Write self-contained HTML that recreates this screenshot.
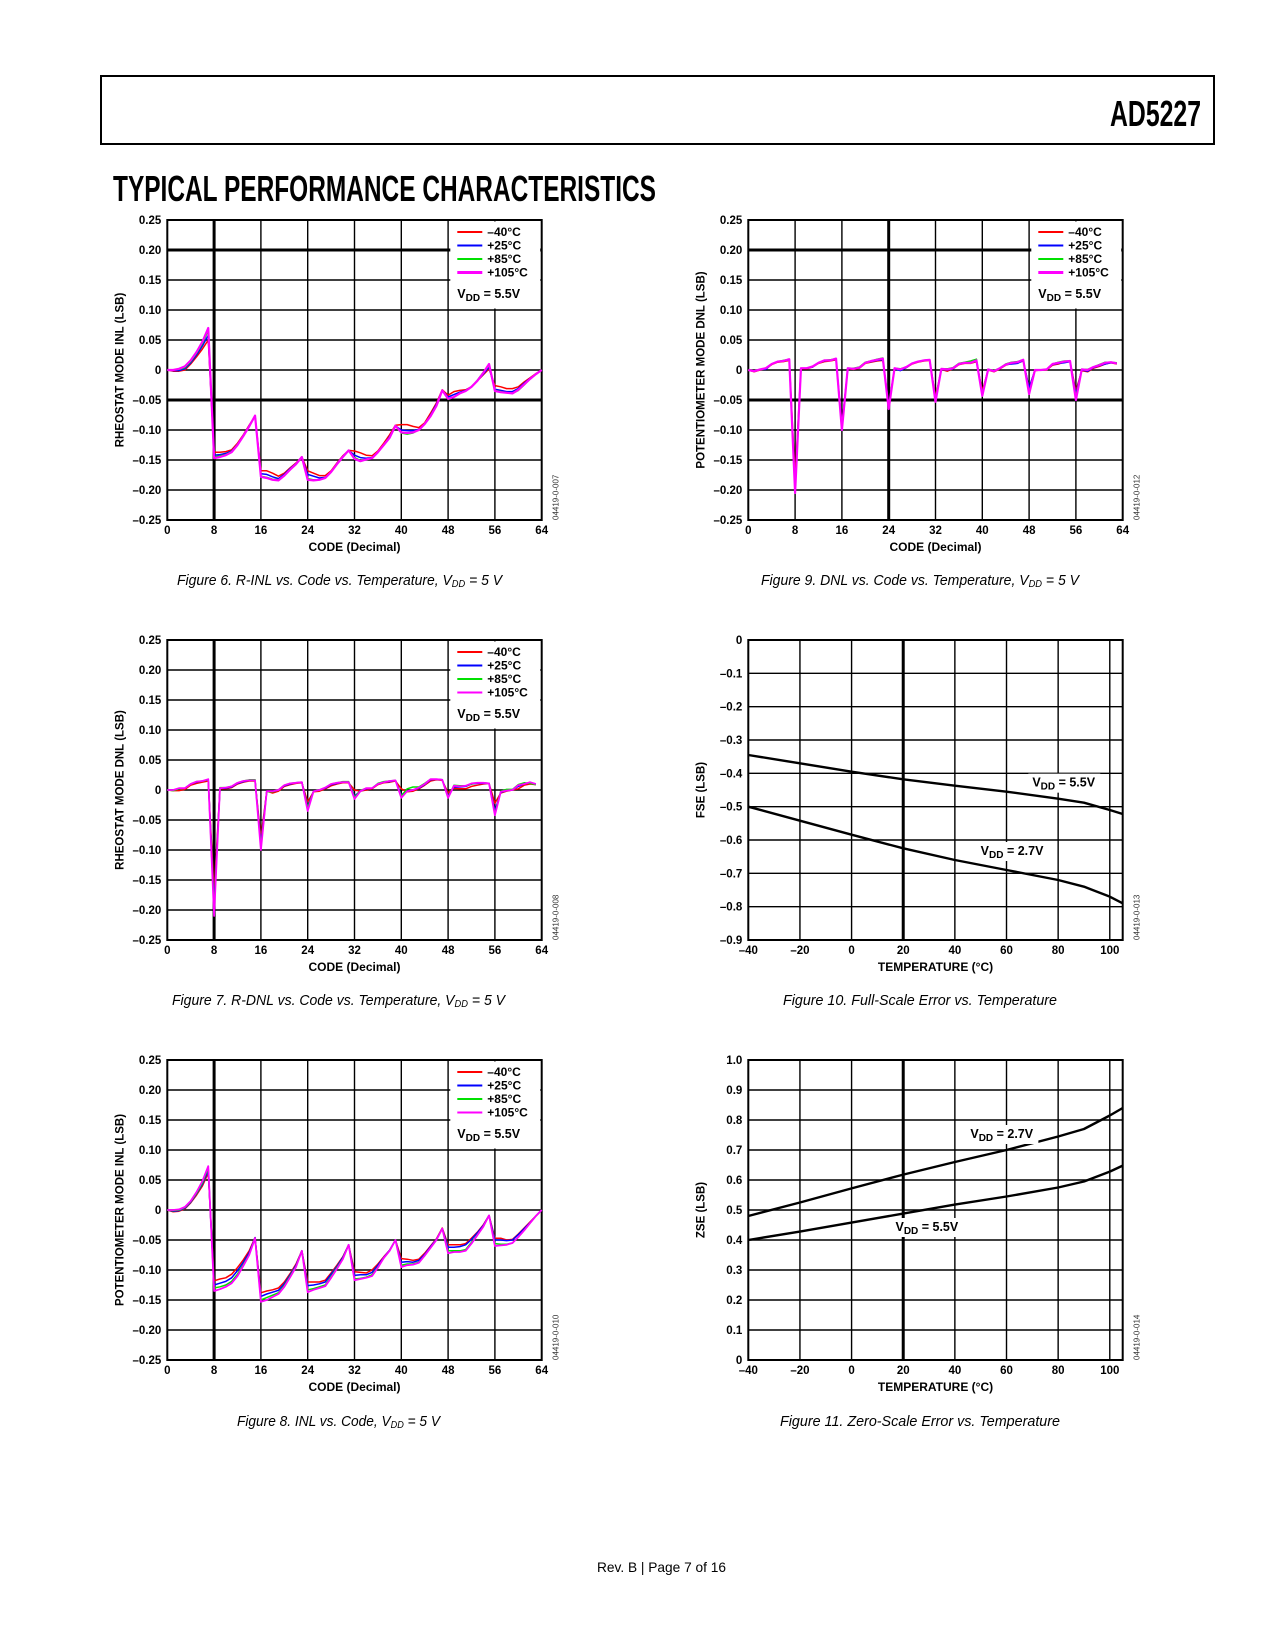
<!DOCTYPE html>
<html><head><meta charset="utf-8"><style>
html,body{margin:0;padding:0;background:#fff;}
svg{display:block;font-family:"Liberation Sans",Arial,sans-serif;}
</style></head><body>
<svg id="page" width="1275" height="1650" viewBox="0 0 1275 1650" xmlns="http://www.w3.org/2000/svg">
<rect x="101" y="76" width="1113" height="68" fill="none" stroke="#000" stroke-width="2"/>
<text x="1201" y="126" text-anchor="end" font-family="'Liberation Sans Narrow','Liberation Sans',sans-serif" font-weight="bold" font-size="36" textLength="91" lengthAdjust="spacingAndGlyphs">AD5227</text>
<text x="113" y="201" font-family="'Liberation Sans Narrow','Liberation Sans',sans-serif" font-weight="bold" font-size="36" textLength="543" lengthAdjust="spacingAndGlyphs">TYPICAL PERFORMANCE CHARACTERISTICS</text>
<text x="597" y="1572" font-size="14" textLength="129" lengthAdjust="spacingAndGlyphs">Rev. B | Page 7 of 16</text>
</svg>
<script>
// ---- Figure 6: R-INL
const codes65 = Array.from({length:65},(_,i)=>i);
const codes64 = Array.from({length:64},(_,i)=>i);
const codeTicks = [0,8,16,24,32,40,48,56,64];
const lsbTicks = [0.25,0.20,0.15,0.10,0.05,0,-0.05,-0.10,-0.15,-0.20,-0.25];
const lsbTickLabels = ["0.25","0.20","0.15","0.10","0.05","0","–0.05","–0.10","–0.15","–0.20","–0.25"];
const tempLegend = ["–40°C","+25°C","+85°C","+105°C"];

const r6 = [0,-0.002,-0.002,0,0.01,0.022,0.035,0.05,-0.137,-0.137,-0.136,-0.133,-0.122,-0.108,-0.092,-0.077,-0.168,-0.168,-0.172,-0.177,-0.172,-0.163,-0.155,-0.145,-0.168,-0.172,-0.176,-0.176,-0.168,-0.155,-0.143,-0.134,-0.135,-0.138,-0.142,-0.143,-0.135,-0.122,-0.108,-0.092,-0.091,-0.091,-0.094,-0.096,-0.088,-0.072,-0.055,-0.033,-0.042,-0.036,-0.034,-0.033,-0.028,-0.018,-0.008,0.002,-0.026,-0.028,-0.031,-0.031,-0.028,-0.02,-0.013,-0.006,0];
const b6 = [0,-0.001,-0.001,0.002,0.012,0.025,0.04,0.058,-0.142,-0.141,-0.139,-0.135,-0.124,-0.109,-0.093,-0.077,-0.173,-0.174,-0.178,-0.181,-0.174,-0.164,-0.156,-0.145,-0.174,-0.177,-0.18,-0.179,-0.17,-0.156,-0.144,-0.134,-0.142,-0.146,-0.147,-0.146,-0.137,-0.125,-0.111,-0.093,-0.1,-0.101,-0.101,-0.099,-0.09,-0.075,-0.057,-0.034,-0.045,-0.041,-0.037,-0.034,-0.028,-0.018,-0.007,0.005,-0.032,-0.034,-0.036,-0.036,-0.031,-0.022,-0.014,-0.007,0];
const g6 = [0,0,0.001,0.004,0.014,0.028,0.044,0.066,-0.145,-0.143,-0.141,-0.136,-0.124,-0.11,-0.094,-0.076,-0.177,-0.179,-0.182,-0.183,-0.176,-0.165,-0.157,-0.145,-0.181,-0.183,-0.183,-0.18,-0.17,-0.157,-0.145,-0.134,-0.146,-0.151,-0.149,-0.147,-0.137,-0.125,-0.112,-0.093,-0.105,-0.107,-0.105,-0.1,-0.09,-0.076,-0.06,-0.034,-0.049,-0.045,-0.039,-0.035,-0.028,-0.017,-0.004,0.007,-0.034,-0.036,-0.038,-0.039,-0.034,-0.025,-0.015,-0.007,0];
const m6 = [0,0,0.002,0.006,0.016,0.03,0.047,0.07,-0.147,-0.145,-0.142,-0.137,-0.125,-0.11,-0.094,-0.076,-0.178,-0.18,-0.183,-0.184,-0.176,-0.166,-0.157,-0.145,-0.183,-0.184,-0.183,-0.18,-0.17,-0.157,-0.145,-0.134,-0.148,-0.152,-0.149,-0.147,-0.137,-0.125,-0.113,-0.093,-0.104,-0.105,-0.104,-0.1,-0.09,-0.077,-0.06,-0.034,-0.048,-0.045,-0.039,-0.035,-0.028,-0.018,-0.005,0.01,-0.035,-0.037,-0.038,-0.039,-0.033,-0.024,-0.015,-0.007,0];

// ---- Figure 7: R-DNL
const r7 = [0,-0.001,-0.001,0.001,0.008,0.011,0.013,0.015,-0.17,0.002,0.002,0.004,0.01,0.013,0.015,0.015,-0.08,-0.002,-0.005,-0.002,0.006,0.009,0.011,0.012,-0.02,-0.003,-0.002,0.002,0.007,0.01,0.012,0.012,0,-0.002,0,0.002,0.009,0.012,0.013,0.015,0.002,-0.003,-0.002,0.002,0.008,0.015,0.017,0.016,-0.005,0.003,0.002,0.002,0.006,0.008,0.01,0.011,-0.022,-0.005,-0.002,0,0.002,0.008,0.01,0.009];
const b7 = [0,0,0.002,0.003,0.01,0.013,0.015,0.017,-0.19,0.003,0.003,0.005,0.011,0.014,0.016,0.016,-0.09,-0.002,-0.003,0,0.007,0.01,0.012,0.013,-0.028,-0.002,0,0.003,0.009,0.011,0.013,0.013,-0.01,-0.002,0.002,0.003,0.01,0.013,0.014,0.016,-0.008,-0.002,0,0.003,0.009,0.017,0.018,0.017,-0.01,0.005,0.005,0.006,0.01,0.011,0.011,0.011,-0.035,-0.004,-0.001,0,0.006,0.01,0.012,0.01];
const g7 = [0,-0.001,0.002,0.003,0.01,0.014,0.015,0.017,-0.2,0.004,0.004,0.006,0.012,0.015,0.017,0.017,-0.095,-0.003,-0.003,0,0.008,0.011,0.012,0.013,-0.03,-0.002,0,0.004,0.01,0.012,0.014,0.014,-0.012,-0.001,0.003,0.003,0.011,0.014,0.015,0.016,-0.01,0.002,0.005,0.005,0.011,0.018,0.018,0.017,-0.012,0.008,0.007,0.007,0.01,0.012,0.012,0.011,-0.04,-0.002,0.001,0.001,0.009,0.012,0.011,0.009];
const m7 = [0,0,0.003,0.003,0.01,0.014,0.015,0.018,-0.21,0.003,0.004,0.006,0.012,0.015,0.016,0.016,-0.1,-0.002,-0.002,0,0.008,0.011,0.012,0.013,-0.035,-0.002,0,0.004,0.01,0.012,0.013,0.013,-0.015,-0.002,0.003,0.003,0.01,0.013,0.015,0.016,-0.013,-0.002,0,0.004,0.01,0.018,0.018,0.017,-0.013,0.007,0.006,0.007,0.011,0.012,0.012,0.011,-0.042,-0.003,-0.001,0,0.008,0.01,0.013,0.01];

// ---- Figure 8: Pot INL
const r8 = [0,-0.003,-0.002,0.002,0.012,0.025,0.04,0.062,-0.118,-0.115,-0.113,-0.107,-0.096,-0.083,-0.068,-0.046,-0.138,-0.135,-0.133,-0.13,-0.12,-0.106,-0.09,-0.068,-0.12,-0.12,-0.12,-0.117,-0.105,-0.092,-0.078,-0.058,-0.103,-0.104,-0.105,-0.1,-0.09,-0.078,-0.067,-0.05,-0.081,-0.082,-0.084,-0.082,-0.072,-0.06,-0.048,-0.03,-0.058,-0.058,-0.058,-0.056,-0.047,-0.037,-0.025,-0.009,-0.047,-0.047,-0.05,-0.049,-0.04,-0.03,-0.02,-0.01,0];
const b8 = [0,-0.002,-0.001,0.003,0.013,0.027,0.043,0.066,-0.125,-0.122,-0.119,-0.113,-0.101,-0.087,-0.071,-0.046,-0.144,-0.14,-0.137,-0.134,-0.123,-0.108,-0.092,-0.068,-0.126,-0.125,-0.123,-0.12,-0.107,-0.094,-0.079,-0.058,-0.109,-0.108,-0.108,-0.104,-0.092,-0.079,-0.067,-0.05,-0.087,-0.086,-0.087,-0.084,-0.074,-0.061,-0.049,-0.031,-0.062,-0.062,-0.061,-0.058,-0.049,-0.038,-0.026,-0.009,-0.05,-0.05,-0.051,-0.05,-0.041,-0.031,-0.021,-0.01,0];
const g8 = [0,-0.001,0,0.004,0.014,0.028,0.045,0.07,-0.13,-0.128,-0.125,-0.119,-0.107,-0.091,-0.074,-0.047,-0.15,-0.146,-0.142,-0.138,-0.126,-0.11,-0.094,-0.068,-0.133,-0.131,-0.128,-0.125,-0.111,-0.096,-0.081,-0.058,-0.115,-0.114,-0.112,-0.108,-0.095,-0.08,-0.068,-0.05,-0.092,-0.09,-0.09,-0.087,-0.076,-0.063,-0.05,-0.031,-0.068,-0.068,-0.068,-0.066,-0.054,-0.041,-0.028,-0.009,-0.056,-0.057,-0.057,-0.055,-0.045,-0.034,-0.022,-0.01,0];
const m8 = [0,0,0.001,0.005,0.015,0.03,0.048,0.073,-0.135,-0.132,-0.128,-0.122,-0.11,-0.093,-0.075,-0.047,-0.153,-0.15,-0.145,-0.14,-0.128,-0.112,-0.095,-0.068,-0.137,-0.133,-0.13,-0.127,-0.113,-0.098,-0.082,-0.058,-0.117,-0.115,-0.113,-0.11,-0.096,-0.08,-0.068,-0.05,-0.095,-0.092,-0.091,-0.088,-0.076,-0.063,-0.05,-0.031,-0.072,-0.07,-0.07,-0.068,-0.056,-0.042,-0.028,-0.009,-0.06,-0.059,-0.058,-0.055,-0.045,-0.034,-0.022,-0.01,0];

// ---- Figure 9: Pot DNL
const r9 = [0,-0.003,0,0.002,0.009,0.013,0.014,0.016,-0.18,0.002,0.002,0.005,0.011,0.014,0.015,0.017,-0.095,0.002,0.001,0.003,0.011,0.013,0.015,0.016,-0.06,0.002,0,0.004,0.01,0.013,0.015,0.016,-0.045,0.001,-0.002,0.002,0.009,0.011,0.011,0.014,-0.035,0,-0.003,0.002,0.008,0.011,0.012,0.015,-0.03,-0.001,0,0,0.008,0.01,0.013,0.014,-0.035,-0.001,-0.003,0.003,0.006,0.01,0.012,0.01];
const b9 = [0,-0.002,0.001,0.001,0.01,0.014,0.015,0.017,-0.2,0.003,0.003,0.005,0.012,0.015,0.016,0.018,-0.095,0.003,0.002,0.004,0.012,0.014,0.016,0.017,-0.06,0.002,-0.001,0.004,0.011,0.014,0.016,0.017,-0.05,0.001,0,0.002,0.01,0.012,0.012,0.015,-0.04,0.001,-0.002,0.003,0.009,0.01,0.011,0.016,-0.03,0,0,0.001,0.009,0.011,0.012,0.014,-0.04,0,-0.002,0.004,0.007,0.01,0.012,0.011];
const g9 = [0,-0.002,0.001,0.003,0.01,0.014,0.016,0.018,-0.2,0.003,0.003,0.006,0.012,0.016,0.017,0.019,-0.1,0.003,0.003,0.005,0.013,0.015,0.018,0.02,-0.065,0.003,0.002,0.005,0.011,0.014,0.016,0.017,-0.05,0.002,0.002,0.004,0.011,0.013,0.015,0.018,-0.04,0.001,-0.001,0.003,0.01,0.013,0.014,0.017,-0.038,0,0,0.001,0.01,0.013,0.015,0.015,-0.045,0.001,0.001,0.005,0.009,0.013,0.013,0.012];
const m9 = [0,-0.002,0.001,0.003,0.01,0.014,0.015,0.018,-0.205,0.003,0.003,0.006,0.012,0.016,0.016,0.019,-0.1,0.003,0.002,0.004,0.012,0.015,0.017,0.019,-0.065,0.003,0.001,0.005,0.011,0.014,0.016,0.017,-0.053,0.002,0.001,0.003,0.01,0.012,0.012,0.016,-0.043,0.001,-0.002,0.003,0.009,0.012,0.013,0.017,-0.04,0,0,0.001,0.01,0.012,0.014,0.015,-0.05,0.001,0,0.005,0.008,0.012,0.013,0.011];

// ---- Figures 10 & 11: vs temperature
const temps = [-40,-20,0,20,40,60,80,90,100,105];
const tempTicks = [-40,-20,0,20,40,60,80,100];
const tempTickLabels = ["–40","–20","0","20","40","60","80","100"];
const fse55 = [-0.345,-0.37,-0.395,-0.418,-0.437,-0.455,-0.476,-0.488,-0.51,-0.522];
const fse27 = [-0.5,-0.542,-0.584,-0.625,-0.66,-0.69,-0.72,-0.74,-0.77,-0.79];
const fseTicks = [0,-0.1,-0.2,-0.3,-0.4,-0.5,-0.6,-0.7,-0.8,-0.9];
const fseTickLabels = ["0","–0.1","–0.2","–0.3","–0.4","–0.5","–0.6","–0.7","–0.8","–0.9"];
const zse27 = [0.48,0.525,0.572,0.618,0.66,0.7,0.745,0.77,0.815,0.84];
const zse55 = [0.4,0.428,0.458,0.488,0.518,0.545,0.575,0.595,0.628,0.648];
const zseTicks = [1.0,0.9,0.8,0.7,0.6,0.5,0.4,0.3,0.2,0.1,0];
const zseTickLabels = ["1.0","0.9","0.8","0.7","0.6","0.5","0.4","0.3","0.2","0.1","0"];

const NS = "http://www.w3.org/2000/svg";
const page = document.getElementById('page');
function mk(tag, attrs, parent){
  const e = document.createElementNS(NS, tag);
  for (const k in attrs) e.setAttribute(k, attrs[k]);
  (parent||page).appendChild(e);
  return e;
}
const COLORS = ["#ff0000","#0000ff","#00e000","#ff00ff"];

function chart(o){
  const g = mk('g', {});
  
  
  const L=o.L, T=o.T, W=374.4, H=300;
  const sx = v => L + (v - o.xmin)/(o.xmax - o.xmin)*W;
  const sy = v => T + (o.ymax - v)/(o.ymax - o.ymin)*H;
  o.yTicks.forEach((v,i)=>{
    const thick = o.thickY && o.thickY.includes(v);
    const ln = mk('line',{x1:L,x2:L+W,y1:sy(v),y2:sy(v),stroke:'#000','stroke-width':thick?3:1.4},g);
    
    
    const t = mk('text',{x:L-6,y:sy(v)+4,'text-anchor':'end','font-size':11.5,'font-weight':'bold'},g);
    t.textContent = o.yLabels[i];
    
    
  });
  o.xTicks.forEach((v,i)=>{
    const thick = o.thickX && o.thickX.includes(v);
    const ln = mk('line',{x1:sx(v),x2:sx(v),y1:T,y2:T+H,stroke:'#000','stroke-width':thick?3:1.4},g);
    
    
    const t = mk('text',{x:sx(v),y:T+H+14,'text-anchor':'middle','font-size':11.5,'font-weight':'bold'},g);
    t.textContent = o.xLabels[i];
    
    
  });
  const fr = mk('rect',{x:L,y:T,width:W,height:H,fill:'none',stroke:'#000','stroke-width':2},g);
  
  
  if (o.legend){
    const lb = mk('rect',{x:L+283,y:T+1.5,width:W-284.5,height:87,fill:'#fff'},g);
    
    
  }
  o.series.forEach((s,si)=>{
    const d = s.y.map((v,i)=>(i?'L':'M')+sx(s.x[i]).toFixed(2)+','+sy(v).toFixed(2)).join('');
    const p = mk('path',{d:d,fill:'none',stroke:s.color,'stroke-width':s.w||1.6,'stroke-linejoin':'round'},g);
    
    
  });
  if (o.legend){
    tempLegend.forEach((lab,i)=>{
      const y = T+12+i*13.5;
      const ln = mk('line',{x1:L+290,x2:L+315,y1:y,y2:y,stroke:COLORS[i],'stroke-width':i==3&&o.thickMag?3:2},g);
      
      
      const t = mk('text',{x:L+320,y:y+4,'font-size':12,'font-weight':'bold'},g);
      t.textContent = lab;
      
      
    });
    const vt = mk('text',{x:L+290,y:T+78,'font-size':12.5,'font-weight':'bold'},g);
    vt.innerHTML = 'V<tspan font-size="10" dy="3">DD</tspan><tspan dy="-3"> = 5.5V</tspan>';
    
    
  }
  (o.notes||[]).forEach(n=>{
    const bg = mk('rect',{x:sx(n.x)-4,y:sy(n.y)-13,width:72,height:19,fill:'#fff'},g);
    
    
    const t = mk('text',{x:sx(n.x),y:sy(n.y),'font-size':12.5,'font-weight':'bold'},g);
    t.innerHTML = 'V<tspan font-size="10" dy="3">DD</tspan><tspan dy="-3"> = '+n.t+'</tspan>';
    
    
  });
  const yt = mk('text',{x:0,y:0,transform:`translate(${L-44},${T+H/2}) rotate(-90)`,'text-anchor':'middle','font-size':11.5,'font-weight':'bold'},g);
  yt.textContent = o.yTitle;
  
  
  const xt = mk('text',{x:L+W/2,y:T+H+31,'text-anchor':'middle','font-size':12,'font-weight':'bold'},g);
  xt.textContent = o.xTitle;
  
  
  const id = mk('text',{x:0,y:0,transform:`translate(${L+391},${T+H}) rotate(-90)`,'font-size':8,fill:'#333'},g);
  id.textContent = o.id;
  
  
  const cap = mk('text',{x:o.cap[0],y:o.cap[1],'font-size':15,'font-style':'italic',textLength:o.cap[2],lengthAdjust:'spacingAndGlyphs'},g);
  cap.innerHTML = o.capText;
  
  
}

function tempSeries(x, arrs, thickMag){
  const names=['series-minus40c','series-plus25c','series-plus85c','series-plus105c'];
  return arrs.map((a,i)=>({x:x,y:a,color:COLORS[i],name:names[i],w:(i==3?(thickMag?2.2:1.8):1.5)}));
}
const codeBase = {xmin:0,xmax:64,ymin:-0.25,ymax:0.25,xTicks:codeTicks,xLabels:codeTicks.map(String),yTicks:lsbTicks,yLabels:lsbTickLabels,xTitle:'CODE (Decimal)',legend:true};
const sub = '<tspan font-size="10" dy="2">DD</tspan><tspan dy="-2"> = 5 V</tspan>';

chart(Object.assign({},codeBase,{name:'figure-6-rinl-chart',L:167.3,T:220,thickX:[8],thickY:[0.20,-0.05],thickMag:true,
  series:tempSeries(codes65,[r6,b6,g6,m6],true),yTitle:'RHEOSTAT MODE INL (LSB)',id:'04419-0-007',
  cap:[177,585,325],capText:'Figure 6. R-INL vs. Code vs. Temperature, V'+sub}));
chart(Object.assign({},codeBase,{name:'figure-7-rdnl-chart',L:167.3,T:640,thickX:[8],
  series:tempSeries(codes64,[r7,b7,g7,m7],false),yTitle:'RHEOSTAT MODE DNL (LSB)',id:'04419-0-008',
  cap:[172,1005,333],capText:'Figure 7. R-DNL vs. Code vs. Temperature, V'+sub}));
chart(Object.assign({},codeBase,{name:'figure-8-inl-chart',L:167.3,T:1060,thickX:[8],
  series:tempSeries(codes65,[r8,b8,g8,m8],false),yTitle:'POTENTIOMETER MODE INL (LSB)',id:'04419-0-010',
  cap:[237,1426,203],capText:'Figure 8. INL vs. Code, V'+sub}));
chart(Object.assign({},codeBase,{name:'figure-9-dnl-chart',L:748.3,T:220,thickX:[24],thickY:[0.20,-0.05],thickMag:true,
  series:tempSeries(codes64,[r9,b9,g9,m9],true),yTitle:'POTENTIOMETER MODE DNL (LSB)',id:'04419-0-012',
  cap:[761,585,318],capText:'Figure 9. DNL vs. Code vs. Temperature, V'+sub}));
chart({name:'figure-10-fse-chart',L:748.3,T:640,xmin:-40,xmax:105,ymin:-0.9,ymax:0,xTicks:tempTicks,xLabels:tempTickLabels,
  yTicks:fseTicks,yLabels:fseTickLabels,thickX:[20],xTitle:'TEMPERATURE (°C)',yTitle:'FSE (LSB)',id:'04419-0-013',
  series:[{x:temps,y:fse55,color:'#000',name:'series-vdd-5v5',w:2.4},{x:temps,y:fse27,color:'#000',name:'series-vdd-2v7',w:2.4}],
  notes:[{x:70,y:-0.44,t:'5.5V'},{x:50,y:-0.645,t:'2.7V'}],
  cap:[783,1005,274],capText:'Figure 10. Full-Scale Error vs. Temperature'});
chart({name:'figure-11-zse-chart',L:748.3,T:1060,xmin:-40,xmax:105,ymin:0,ymax:1.0,xTicks:tempTicks,xLabels:tempTickLabels,
  yTicks:zseTicks,yLabels:zseTickLabels,thickX:[20],xTitle:'TEMPERATURE (°C)',yTitle:'ZSE (LSB)',id:'04419-0-014',
  series:[{x:temps,y:zse27,color:'#000',name:'series-vdd-2v7',w:2.4},{x:temps,y:zse55,color:'#000',name:'series-vdd-5v5',w:2.4}],
  notes:[{x:46,y:0.74,t:'2.7V'},{x:17,y:0.43,t:'5.5V'}],
  cap:[780,1426,280],capText:'Figure 11. Zero-Scale Error vs. Temperature'});
</script>
</body></html>
